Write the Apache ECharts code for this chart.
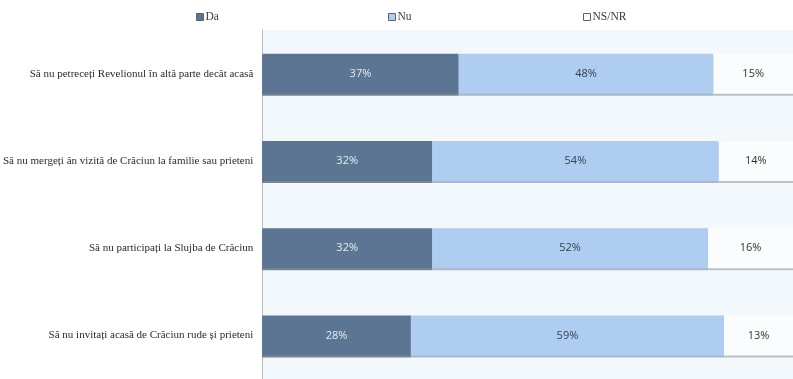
<!DOCTYPE html>
<html>
<head>
<meta charset="utf-8">
<script src="https://cdn.jsdelivr.net/npm/echarts@6/dist/echarts.min.js"></script>
<style>
  html, body { margin: 0; padding: 0; background: #fff; }
  #chart { width: 793px; height: 379px; }
</style>
</head>
<body>
<div id="chart"></div>
<script>
const categories = [
  'Să nu petreceți Revelionul în altă parte decât acasă',
  'Să nu mergeți ân vizită de Crăciun la familie sau prieteni',
  'Să nu participați la Slujba de Crăciun',
  'Să nu invitați acasă de Crăciun rude și prieteni'
]
const da = [37, 32, 32, 28]
const nu = [48, 54, 52, 59]
const nsnr = [15, 14, 16, 13]

const serif = '"Liberation Serif", "DejaVu Serif", serif'
const sans = '"Open Sans", "Liberation Sans", sans-serif'

const chart = echarts.init(document.getElementById('chart'))

function legendAt(name, left) {
  return {
    data: [name],
    left: left,
    top: 6,
    itemWidth: 7,
    itemHeight: 7,
    itemGap: 3,
    icon: 'rect',
    itemStyle: { borderColor: '#5a6470', borderWidth: 1 },
    textStyle: { fontFamily: serif, fontSize: 11.5, color: '#3a3a3a', padding: [0, 0, 0, -3] },
    selectedMode: false
  }
}

function barSeries(name, data, color, labelColor, shadow) {
  return {
    name: name,
    type: 'bar',
    stack: 'total',
    barWidth: 40,
    data: data,
    itemStyle: { color: color, shadowColor: shadow, shadowOffsetY: 2, shadowBlur: 0 },
    label: {
      show: true,
      position: 'inside',
      formatter: '{c}%',
      fontFamily: sans,
      fontSize: 11,
      color: labelColor
    }
  }
}

chart.setOption({
  animation: false,
  legend: [legendAt('Da', 191), legendAt('Nu', 383), legendAt('NS/NR', 578)],
  grid: {
    left: 260,
    top: 30,
    width: 536,
    height: 350,
    show: true,
    backgroundColor: '#f3f8fc',
    borderWidth: 0
  },
  xAxis: {
    type: 'value',
    min: 0,
    max: 100,
    show: false
  },
  yAxis: {
    type: 'category',
    inverse: true,
    data: categories,
    axisTick: { show: false },
    axisLine: { show: true, lineStyle: { color: '#b8bcc2', width: 1 } },
    axisLabel: {
      fontFamily: serif,
      fontSize: 11,
      color: '#2b2b2b',
      margin: 9
    }
  },
  series: [
    barSeries('Da', da, '#5b7592', '#e6ecf3', 'rgba(40,55,75,0.6)'),
    barSeries('Nu', nu, '#afcdf0', '#34414f', 'rgba(120,140,165,0.6)'),
    barSeries('NS/NR', nsnr, '#fbfcfe', '#333', 'rgba(150,155,160,0.6)')
  ]
})
</script>
</body>
</html>
